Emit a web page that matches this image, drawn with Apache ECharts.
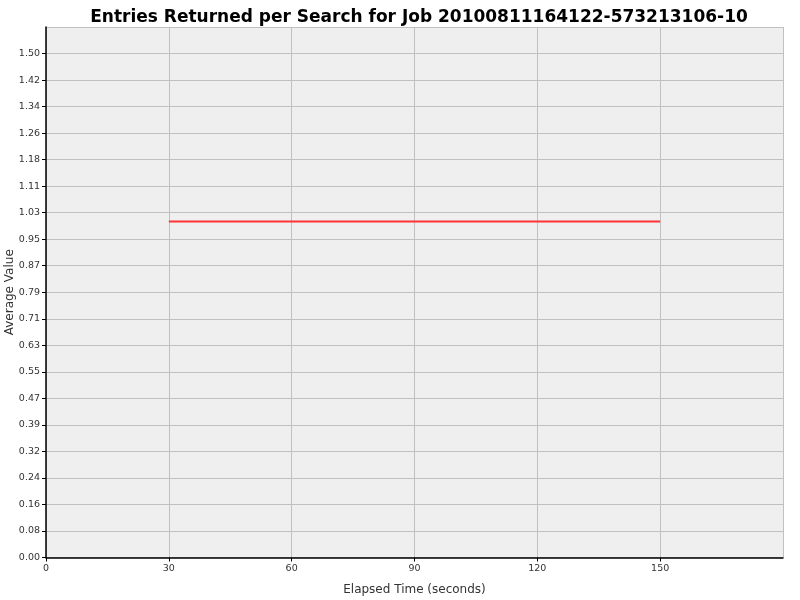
<!DOCTYPE html>
<html>
<head>
<meta charset="utf-8">
<script src="https://cdn.jsdelivr.net/npm/echarts@6/dist/echarts.min.js"></script>
<style>html,body{margin:0;padding:0;background:#fff}#c{width:800px;height:600px}</style>
</head>
<body>
<div id="c"></div>
<script>
var titleText = "Entries Returned per Search for Job 20100811164122-573213106-10";
var xName = "Elapsed Time (seconds)";
var yName = "Average Value";
var elapsed = [30, 60, 90, 120, 150];
var avgValue = [1.0, 1.0, 1.0, 1.0, 1.0];
var xMin = 0, xMax = 180, xStep = 30;
var yMin = 0, yStep = 1.5 / 19, yMax = 30 / 19;

var chart = echarts.init(document.getElementById('c'));
var font = 'DejaVu Sans';
chart.setOption({
  animation: false,
  backgroundColor: '#ffffff',
  title: {
    text: titleText,
    left: 414, textAlign: 'center', top: 4,
    textStyle: { fontFamily: font, fontWeight: 'bold', fontSize: 17, color: '#000' }
  },
  grid: {
    left: 46, right: 17, top: 27, bottom: 42.5,
    containLabel: false, outerBoundsMode: 'none',
    show: true, backgroundColor: '#efefef', borderWidth: 0
  },
  xAxis: {
    type: 'value', min: xMin, max: xMax, interval: xStep,
    name: xName, nameLocation: 'middle', nameGap: 26, nameMoveOverlap: false,
    nameTextStyle: { fontFamily: font, fontSize: 12, color: '#333' },
    axisLine: { show: true, lineStyle: { color: '#000', width: 1.5 } },
    axisTick: { show: true, length: 4, lineStyle: { color: '#000' } },
    axisLabel: { fontFamily: font, fontSize: 9.5, color: '#333', margin: 6, showMaxLabel: false },
    splitLine: { show: true, lineStyle: { color: '#c0c0c0', width: 1 } }
  },
  yAxis: {
    type: 'value', min: yMin, max: yMax, interval: yStep,
    name: yName, nameLocation: 'middle', nameGap: 30, nameRotate: 90, nameMoveOverlap: false,
    nameTextStyle: { fontFamily: font, fontSize: 12, color: '#333' },
    axisLine: { show: true, lineStyle: { color: '#000', width: 1.5 } },
    axisTick: { show: true, length: 4, lineStyle: { color: '#000' } },
    axisLabel: {
      fontFamily: font, fontSize: 9.5, color: '#333', margin: 6, showMaxLabel: false,
      formatter: function (v) { return v.toFixed(2); }
    },
    splitLine: { show: true, lineStyle: { color: '#c0c0c0', width: 1 } }
  },
  series: [{
    type: 'line',
    data: elapsed.map(function (x, i) { return [x, avgValue[i]]; }),
    showSymbol: false,
    lineStyle: { color: '#ff3333', width: 2 },
    itemStyle: { color: '#ff3333' }
  }]
});
</script>
</body>
</html>
